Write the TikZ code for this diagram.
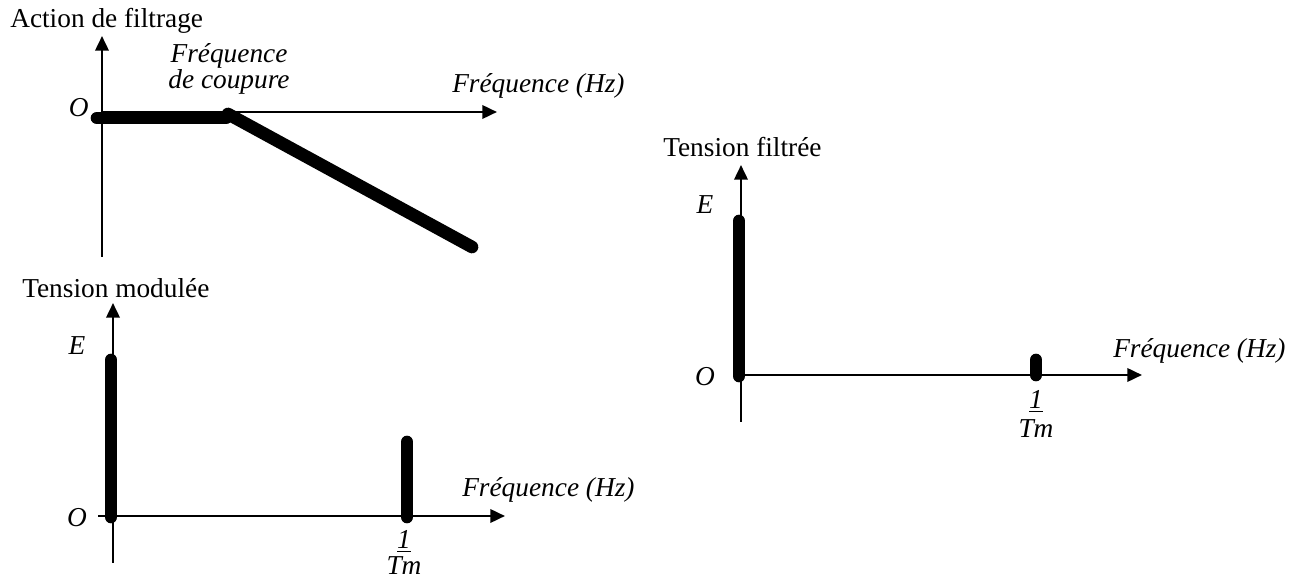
\documentclass[tikz,border=0pt]{standalone}
\usepackage{fontspec}
\setmainfont{Liberation Serif}
\usetikzlibrary{arrows.meta}
\tikzset{
  axisline/.style={line width=1.9pt, -{Triangle[length=11pt,width=10pt]}},
  plainaxis/.style={line width=1.9pt},
  specline/.style={line width=9.5pt, line cap=round},
  lbl/.style={inner sep=0pt, font=\fontsize{20.5}{24}\selectfont},
  ilbl/.style={inner sep=0pt, font=\fontsize{20.5}{24}\selectfont\itshape}
}
\begin{document}
\begin{tikzpicture}[x=0.75pt,y=-0.75pt]
\useasboundingbox (0,0) rectangle (1304,580);

% ---------- Graph 1 : Action de filtrage ----------
\coordinate (g1o) at (102,112);
\coordinate (g1top) at (102,36);
\coordinate (g1bot) at (102,257);
\coordinate (g1right) at (497,112);
\draw[plainaxis] (g1bot) -- (g1o);
\draw[axisline] (g1o) -- (g1top);
\draw[axisline] (g1o) -- (g1right);
\coordinate (f1a) at (97,118);
\coordinate (f1b) at (226,118);
\coordinate (f1c) at (228,114);
\coordinate (f1d) at (472,247);
\draw[specline] (f1a) -- (f1b);
\draw[specline] (f1c) -- (f1d);
\node[lbl, anchor=base west] (t1) at (10,28) {Action de filtrage};
\node[ilbl, anchor=base east] (o1) at (89,117) {O};
\node[ilbl, align=center, anchor=base, font=\fontsize{20.5}{17.5}\selectfont\itshape] (fc) at (229,89) {Fréquence\\de coupure};
\node[ilbl, anchor=base west] (fh1) at (452,93) {Fréquence (Hz)};

% ---------- Graph 2 : Tension modulee ----------
\coordinate (g2o) at (113,516);
\coordinate (g2top) at (113,303);
\coordinate (g2bot) at (113,563);
\coordinate (g2left) at (98,516);
\coordinate (g2right) at (505,516);
\draw[plainaxis] (g2bot) -- (g2o);
\draw[axisline] (g2o) -- (g2top);
\draw[axisline] (g2left) -- (g2right);
\coordinate (m0a) at (111,517);
\coordinate (m0b) at (111,360);
\coordinate (m1a) at (407,517);
\coordinate (m1b) at (407,442);
\draw[specline] (m0a) -- (m0b);
\draw[specline] (m1a) -- (m1b);
\node[lbl, anchor=base west] (t2) at (22,298) {Tension modulée};
\node[ilbl, anchor=base] (e2) at (77,355) {E};
\node[ilbl, anchor=base] (o2) at (77,527) {O};
\node[ilbl, anchor=base west] (fh2) at (462,497) {Fréquence (Hz)};
\node[ilbl, anchor=base] (n2) at (404,549) {\underline{1}};
\node[ilbl, anchor=base] (d2) at (404,575) {Tm};

% ---------- Graph 3 : Tension filtree ----------
\coordinate (g3o) at (741,375);
\coordinate (g3top) at (741,165);
\coordinate (g3bot) at (741,422);
\coordinate (g3right) at (1142,375);
\draw[plainaxis] (g3bot) -- (g3o);
\draw[axisline] (g3o) -- (g3top);
\draw[axisline] (g3o) -- (g3right);
\coordinate (s0a) at (739,376);
\coordinate (s0b) at (739,221);
\coordinate (s1a) at (1036,375);
\coordinate (s1b) at (1036,360);
\draw[specline] (s0a) -- (s0b);
\draw[specline] (s1a) -- (s1b);
\node[lbl, anchor=base west] (t3) at (663,157) {Tension filtrée};
\node[ilbl, anchor=base] (e3) at (705,214) {E};
\node[ilbl, anchor=base] (o3) at (705,386) {O};
\node[ilbl, anchor=base west] (fh3) at (1113,358) {Fréquence (Hz)};
\node[ilbl, anchor=base] (n3) at (1036,409) {\underline{1}};
\node[ilbl, anchor=base] (d3) at (1036,438) {Tm};
\end{tikzpicture}
\end{document}
